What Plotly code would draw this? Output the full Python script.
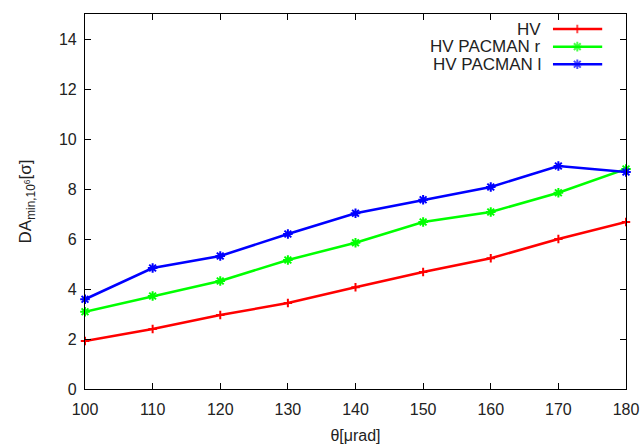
import plotly.graph_objects as go

theta = [100, 110, 120, 130, 140, 150, 160, 170, 180]
hv = [1.92, 2.40, 2.96, 3.44, 4.07, 4.68, 5.23, 6.00, 6.68]
hv_pacman_r = [3.09, 3.72, 4.32, 5.16, 5.85, 6.68, 7.08, 7.85, 8.80]
hv_pacman_l = [3.59, 4.84, 5.32, 6.20, 7.03, 7.57, 8.08, 8.92, 8.68]

names = ["HV", "HV PACMAN r", "HV PACMAN l"]
colors = ["#ff0000", "#00ff00", "#0000ff"]
symbols = ["cross-thin", "asterisk", "asterisk"]
msizes = [6, 8, 8]
series = [hv, hv_pacman_r, hv_pacman_l]

font = "Liberation Sans, Arial, sans-serif"
fig = go.Figure()
for n, c, s, ms, ys in zip(names, colors, symbols, msizes, series):
    fig.add_trace(go.Scatter(
        x=theta, y=ys, name=n, mode="lines+markers",
        line=dict(color=c, width=2.5),
        marker=dict(symbol=s, size=ms, color=c, line=dict(color=c, width=2)),
        showlegend=False, cliponaxis=False))

# custom gnuplot-style legend (text on left, sample on right)
leg_y = [0.96, 0.913, 0.866]
for n, c, s, ms, ly in zip(names, colors, symbols, msizes, leg_y):
    fig.add_trace(go.Scatter(
        x=[0.865, 0.91, 0.956], y=[ly, ly, ly], mode="lines+markers",
        xaxis="x2", yaxis="y2", showlegend=False, hoverinfo="skip",
        line=dict(color=c, width=2.5),
        marker=dict(symbol=s, size=[0, ms, 0], color=c, line=dict(color=c, width=2))))
    fig.add_annotation(x=0.847, y=ly, xref="x2", yref="y2", text=n,
                       showarrow=False, xanchor="right", yanchor="middle",
                       font=dict(family=font, size=17, color="#222"))

axis_common = dict(showgrid=False, zeroline=False, showline=True, linecolor="black",
                   linewidth=1.2, mirror="allticks", ticks="inside", ticklen=6,
                   tickcolor="black", tickwidth=1, automargin=False,
                   tickfont=dict(family=font, size=16, color="#222"))
fig.update_layout(
    width=643, height=448,
    margin=dict(l=85, r=17, t=14, b=59),
    plot_bgcolor="white", paper_bgcolor="white",
    xaxis=dict(range=[100, 180], dtick=10, tick0=100, ticklabelstandoff=6,
               title=dict(text="θ[μrad]", font=dict(family=font, size=16, color="#222"), standoff=12),
               **axis_common),
    yaxis=dict(range=[0, 15], dtick=2, tick0=0, ticklabelstandoff=4,
               title=dict(text="DA<sub>min,10<sup>6</sup></sub>[σ]",
                          font=dict(family=font, size=17, color="#222"), standoff=22),
               **axis_common),
    xaxis2=dict(overlaying="x", range=[0, 1], visible=False, fixedrange=True),
    yaxis2=dict(overlaying="y", range=[0, 1], visible=False, fixedrange=True),
    showlegend=False,
)
fig.write_html("out.html", config={"displayModeBar": False},
               post_script="document.body.style.margin='0';document.body.style.overflow='hidden';")
